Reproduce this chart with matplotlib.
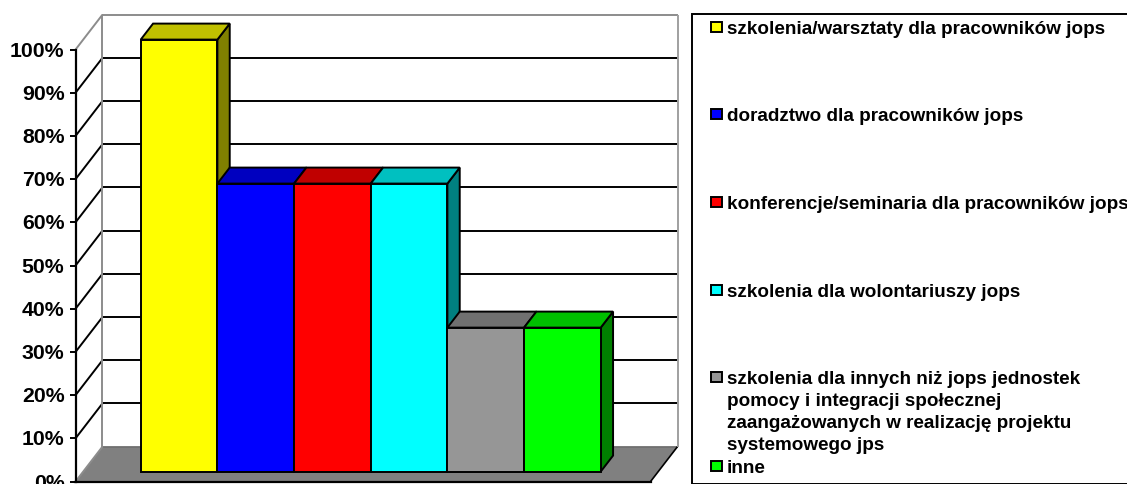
import matplotlib
matplotlib.use("Agg")
import matplotlib.pyplot as plt
from matplotlib.patches import Polygon, Rectangle
from matplotlib.transforms import ScaledTranslation

plt.rcParams["font.family"] = ["Liberation Sans", "DejaVu Sans"]

categories = [
    "szkolenia/warsztaty dla pracowników jops",
    "doradztwo dla pracowników jops",
    "konferencje/seminaria dla pracowników jops",
    "szkolenia dla wolontariuszy jops",
    "szkolenia dla innych niż jops jednostek\npomocy i integracji społecznej\nzaangażowanych w realizację projektu\nsystemowego jps",
    "inne",
]
values = [100, 66.67, 66.67, 66.67, 33.33, 33.33]
yticks = [0, 10, 20, 30, 40, 50, 60, 70, 80, 90, 100]
front_colors = ["#ffff00", "#0000ff", "#ff0000", "#00ffff", "#969696", "#00ff00"]
top_colors = ["#c0c000", "#0000c0", "#c00000", "#00c0c0", "#707070", "#00c000"]
side_colors = ["#808000", "#000080", "#800000", "#008080", "#4b4b4b", "#008000"]

W, H = 1127, 485
fig = plt.figure(figsize=(W / 100, H / 100), dpi=100)
ax = fig.add_axes([75.5 / W, (H - 482.6) / H, 575 / W, 432 / H])
ax.set_xlim(-1.25, 6.25)
ax.set_ylim(0, 100)
ax.patch.set_visible(False)

# oblique projection: depth 0 is the front edge of the floor, 1 the back wall
DX = 27 / (575 / 7.5)
DY = 35 / 4.32
D0, D1 = 0.286, 0.743


def pt(x, y, d):
    return (x + d * DX, y + d * DY)


def face(points, **kw):
    ax.add_patch(Polygon(points, closed=True, clip_on=False, **kw))


def line(a, b, color="black", lw=1.4, z=2):
    ax.plot([a[0], b[0]], [a[1], b[1]], color=color, lw=lw, clip_on=False,
            solid_capstyle="butt", zorder=z)


xl, xr = ax.get_xlim()

# floor
face([pt(xl, 0, 0), pt(xr, 0, 0), pt(xr, 0, 1), pt(xl, 0, 1)],
     facecolor="#808080", edgecolor="none", zorder=1)
line(pt(xl, 0, 1), pt(xr, 0, 1), color="#6e6e6e", lw=1.2)
line(pt(xr, 0, 0), pt(xr, 0, 1), color="#000000", lw=1.2)

# walls and gridlines
for t in yticks[1:-1]:
    line(pt(xl, t, 0), pt(xl, t, 1))
    line(pt(xl, t, 1), pt(xr, t, 1))
line(pt(xl, 0, 0), pt(xl, 0, 1), color="#8c8c8c")
line(pt(xl, 100, 0), pt(xl, 100, 1), color="#8c8c8c")
line(pt(xl, 0, 1), pt(xl, 100, 1), color="#8c8c8c")
line(pt(xl, 100, 1), pt(xr, 100, 1), color="#8c8c8c")
line(pt(xr, 0, 1), pt(xr, 100, 1), color="#a0a0a0")

# bars, left to right so each one hides the side of its neighbour
for i, v in enumerate(values):
    x0, x1 = i - 0.5, i + 0.5
    kw = dict(edgecolor="black", lw=1.4, joinstyle="miter", zorder=3 + i)
    face([pt(x1, 0, D0), pt(x1, 0, D1), pt(x1, v, D1), pt(x1, v, D0)],
         facecolor=side_colors[i], **kw)
    face([pt(x0, v, D0), pt(x1, v, D0), pt(x1, v, D1), pt(x0, v, D1)],
         facecolor=top_colors[i], **kw)
    face([pt(x0, 0, D0), pt(x1, 0, D0), pt(x1, v, D0), pt(x0, v, D0)],
         facecolor=front_colors[i], **kw)

for s in ["top", "right"]:
    ax.spines[s].set_visible(False)
ax.spines["left"].set_linewidth(1.6)
ax.spines["bottom"].set_linewidth(1.6)
ax.spines["left"].set_zorder(2.5)
ax.set_xticks([])
ax.set_yticks(yticks)
ax.set_yticklabels([f"{t}%" for t in yticks], fontsize=15.3, fontweight="bold")
ax.tick_params(axis="y", length=4, width=1.4, pad=4)
up = ScaledTranslation(0, 1.5 / 100, fig.dpi_scale_trans)
for lab in ax.get_yticklabels():
    lab.set_transform(lab.get_transform() + up)

# legend, placed by hand: entries sit on a fixed pitch, and the box runs off the right edge
fig.add_artist(Rectangle((692 / W, (H - 484.5) / H), 500 / W, 469.5 / H,
                         transform=fig.transFigure, facecolor="white",
                         edgecolor="black", lw=1.4, clip_on=True))
legend_y = [28, 115, 203, 291, 378, 467]
for label, color, y in zip(categories, front_colors, legend_y):
    fig.add_artist(Rectangle((711 / W, (H - y - 5) / H), 11 / W, 10 / H,
                             transform=fig.transFigure, facecolor=color,
                             edgecolor="black", lw=1.4))
    fig.text(727 / W, (H - y + 7) / H, label, fontsize=13.6, fontweight="bold",
             va="top", ha="left", linespacing=1.38, color="black")

fig.savefig("out.png", dpi=100)
